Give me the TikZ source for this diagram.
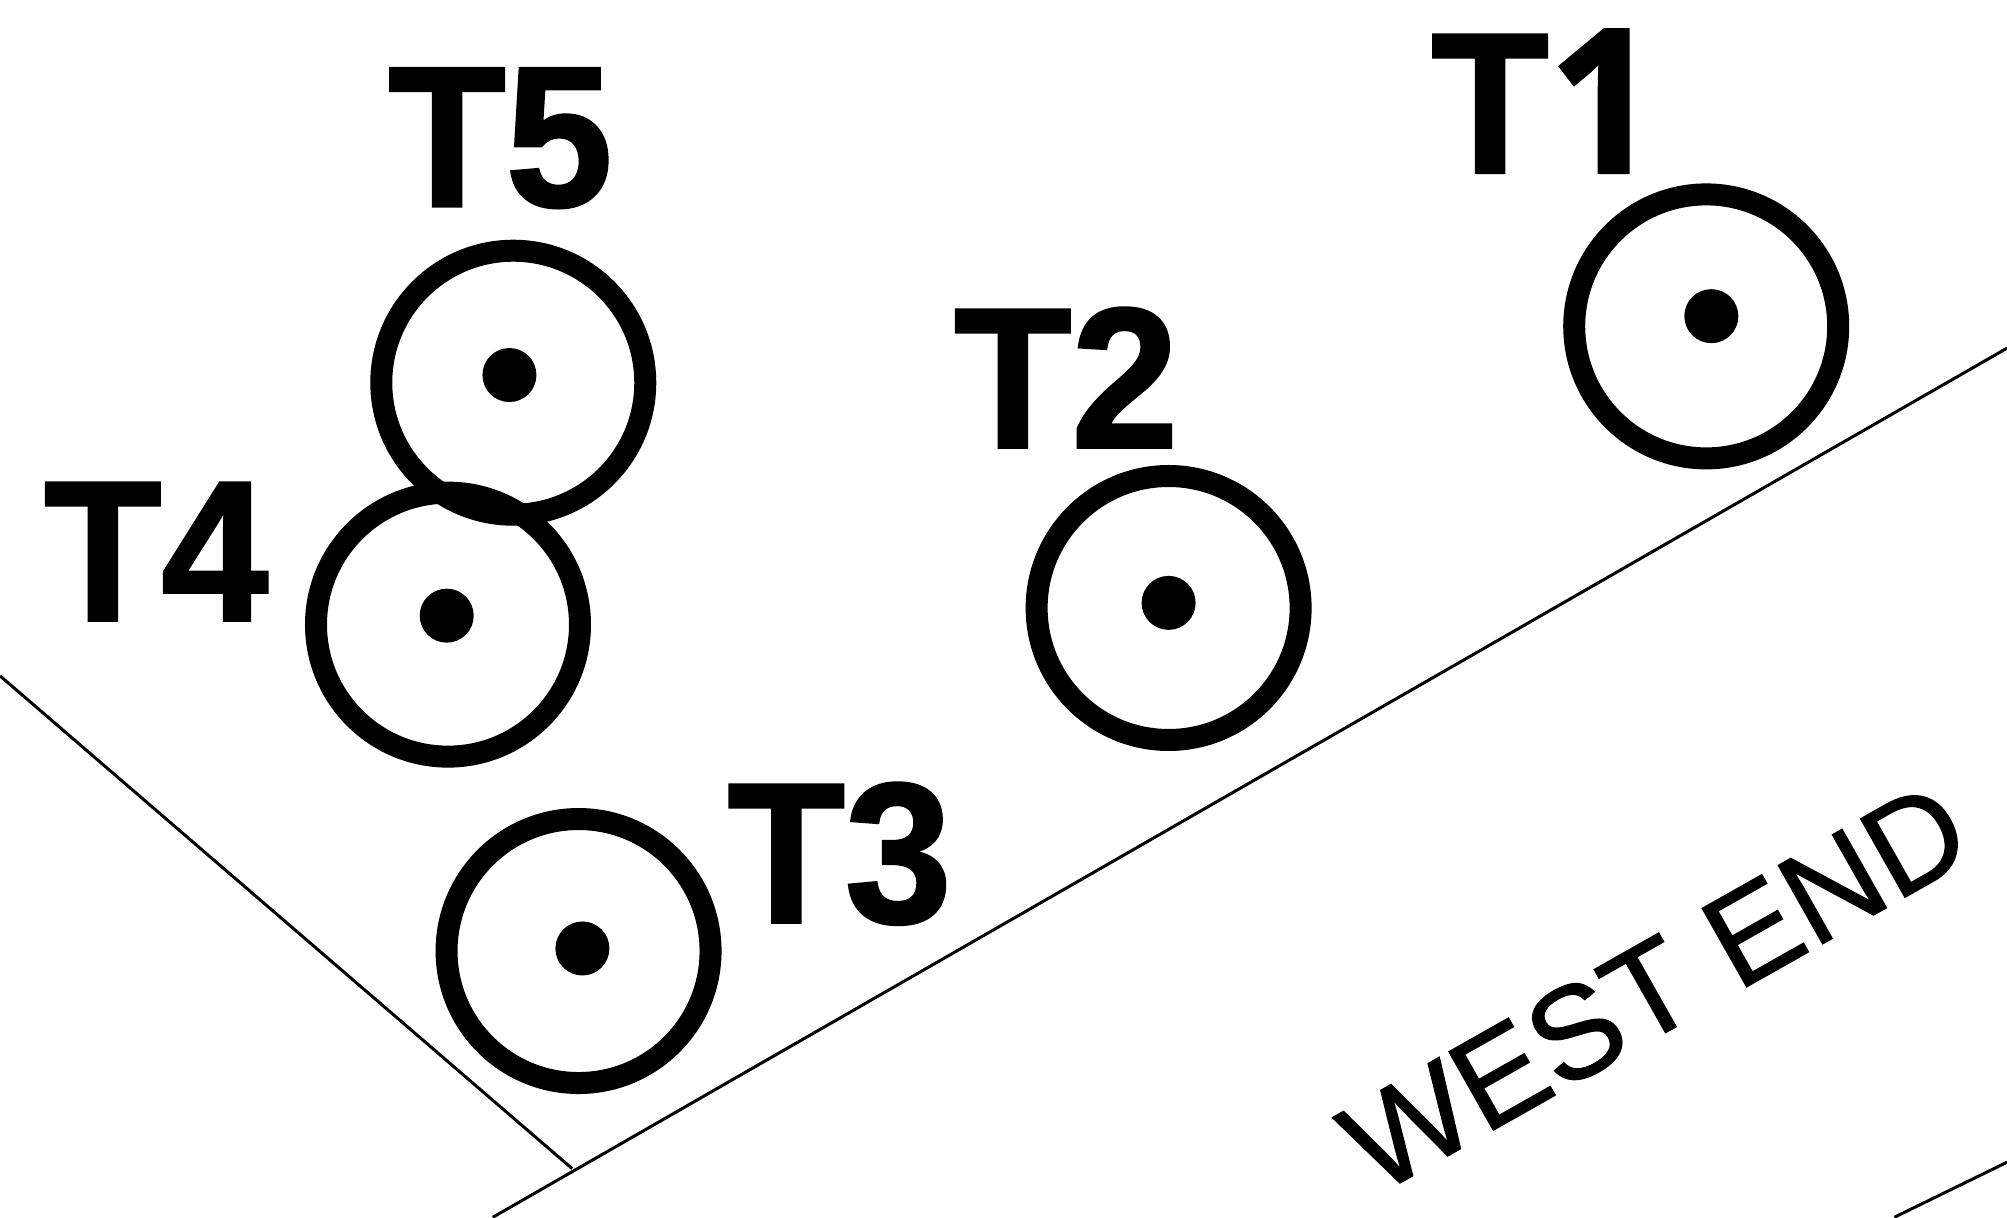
\documentclass[tikz,border=0pt]{standalone}
\usepackage{fontspec}
\setmainfont{Liberation Sans}
\newfontfamily\tagfont[FakeBold=1.5]{Liberation Sans Bold}
\newfontfamily\onefont[FakeBold=1.5]{Open Sans Bold}
\newfontfamily\streetfont[FakeBold=1]{Liberation Sans}
\tikzset{
 tree/.style={circle,draw=black,line width=22pt,minimum size=264pt,inner sep=0pt,fill=none},
 trunk/.style={circle,fill=black,minimum size=54pt,inner sep=0pt},
 tag/.style={font=\fontsize{200}{200}\selectfont\tagfont,inner sep=0pt,text=black,xscale=.96},
 road/.style={draw=black,line width=3pt},
}
\begin{document}
\begin{tikzpicture}[x=1.28pt,y=-1.28pt]
\useasboundingbox (0,0) rectangle (1568,951);
\fill[white] (0,0) rectangle (1568,951);
\coordinate (a1) at (385,951); \coordinate (a2) at (1568,272);
\coordinate (b1) at (0,528); \coordinate (b2) at (447,913);
\coordinate (c1) at (1480,951); \coordinate (c2) at (1568,908);
\draw[road] (a1) -- (a2);
\draw[road] (b1) -- (b2);
\draw[road] (c1) -- (c2);
\node[tree] (c1t) at (1333,255) {};
\node[tree] (c2t) at (913,475) {};
\node[tree] (c3t) at (452,743) {};
\node[tree] (c5t) at (401,299) {};
\node[tree] (c4t) at (350,488) {};
\node[trunk] (d1) at (1337,247) {};
\node[trunk] (d2) at (913,471) {};
\node[trunk] (d3) at (455,741) {};
\node[trunk] (d4) at (349,481) {};
\node[trunk] (d5) at (398,293) {};
\node[tag] (t1) at (1207,79) {T{\onefont 1}};
\node[tag] (t2) at (833,295) {T2};
\node[tag] (t3) at (656,667) {T3};
\node[tag] (t4) at (122,431) {T4};
\node[tag] (t5) at (391,108) {T5};
\node[rotate=29.5,font=\fontsize{131}{131}\selectfont\streetfont,inner sep=0pt] (w) at (1293,771) {WEST END};
\end{tikzpicture}
\end{document}
